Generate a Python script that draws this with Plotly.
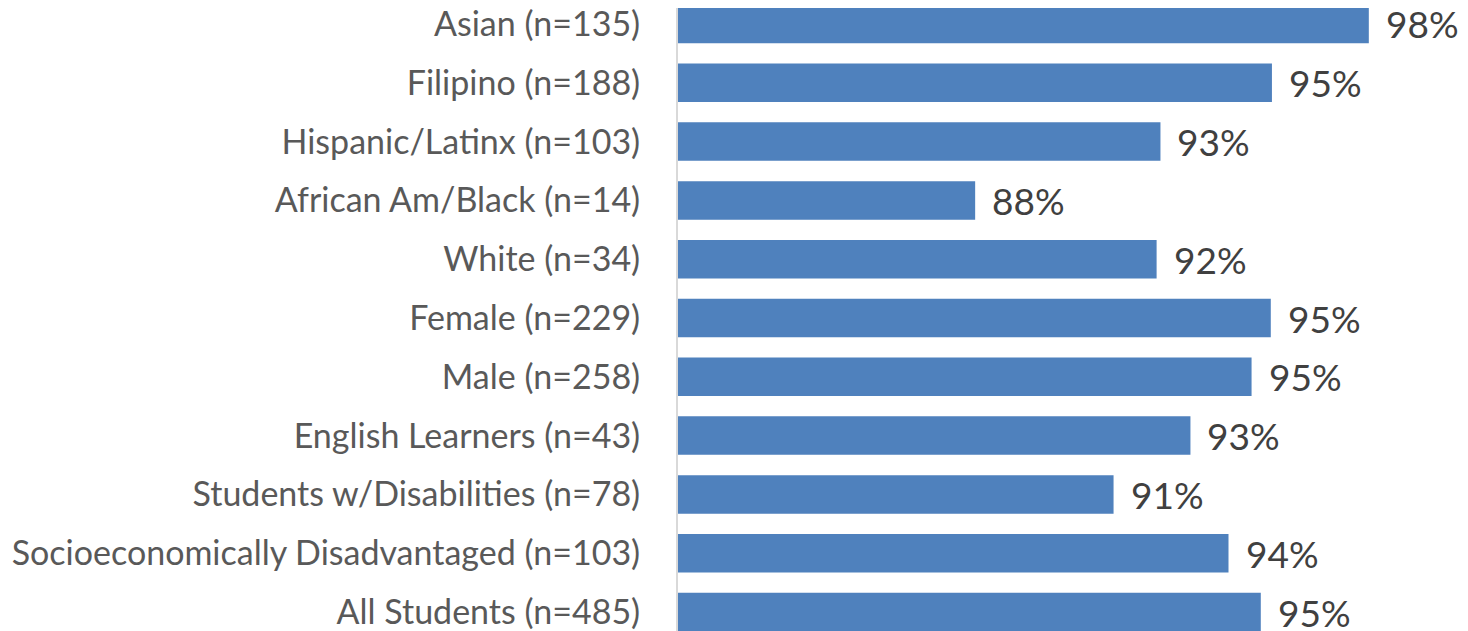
import plotly.graph_objects as go

categories = [
    "Asian (n=135)",
    "Filipino (n=188)",
    "Hispanic/Latinx (n=103)",
    "African Am/Black (n=14)",
    "White (n=34)",
    "Female (n=229)",
    "Male (n=258)",
    "English Learners (n=43)",
    "Students w/Disabilities (n=78)",
    "Socioeconomically Disadvantaged (n=103)",
    "All Students (n=485)",
]
values = [97.97, 95.45, 92.55, 87.73, 92.45, 95.42, 94.92, 93.33, 91.33, 94.32, 95.16]
value_labels = ["98%", "95%", "93%", "88%", "92%", "95%", "95%", "93%", "91%", "94%", "95%"]

FONT = "Lato"

fig = go.Figure()
fig.add_trace(go.Bar(
    x=values,
    y=categories,
    orientation="h",
    marker=dict(color="#4f81bd", line=dict(width=0)),
    base=0,
))

for c, v, t in zip(categories, values, value_labels):
    fig.add_annotation(
        x=v, y=c, text=t, showarrow=False, xanchor="left", yanchor="middle",
        xshift=15, font=dict(family=FONT, size=37, color="#404040"),
    )

fig.update_layout(
    width=1460, height=623,
    margin=dict(l=670, r=0, t=0, b=0, autoexpand=False),
    plot_bgcolor="white", paper_bgcolor="white",
    bargap=0.345,
    showlegend=False,
    xaxis=dict(range=[80, 100.55], visible=False, showgrid=False, zeroline=False,
               automargin=False),
    yaxis=dict(
        type="category",
        range=[10.323, -0.272],
        automargin=False,
        showline=True, linecolor="#d9d9d9", linewidth=2,
        showgrid=False, zeroline=False,
        ticks="", ticklabelstandoff=29,
        tickfont=dict(family=FONT, size=34, color="#595959"),
    ),
)

fig.write_html("out.html")
